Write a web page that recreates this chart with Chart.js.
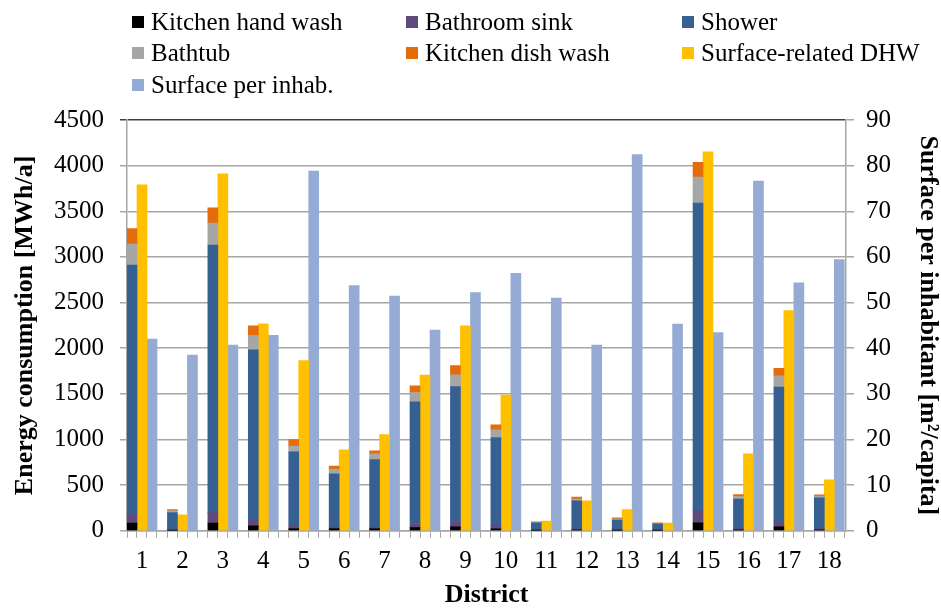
<!DOCTYPE html>
<html>
<head>
<meta charset="utf-8">
<script src="https://cdn.jsdelivr.net/npm/chart.js@4.4.1/dist/chart.umd.min.js"></script>
<style>
  body { margin: 0; background: #fff; }
  #wrap { position: relative; width: 941px; height: 610px; }
  #legend { position: absolute; left: 0; top: 0; width: 941px; height: 110px;
            font: 25px "Liberation Serif", "Times New Roman", serif; color: #000; }
  .item { position: absolute; height: 30px; line-height: 30px; white-space: nowrap;
          display: flex; align-items: center; }
  .box { width: 12px; height: 12px; margin-right: 7px; }
</style>
</head>
<body>
<div id="wrap">
  <canvas id="chart" width="941" height="610"></canvas>
  <div id="legend"></div>
</div>
<script>
// districts along the x-axis
var districts = ['1','2','3','4','5','6','7','8','9','10','11','12','13','14','15','16','17','18'];

// stacked consumption parts [MWh/a]
var handWash = [85, 5, 84, 55, 25, 25, 25, 35, 44, 22, 5, 10, 5, 5, 88, 10, 44, 10];
var bathSink = [100, 8, 115, 65, 30, 15, 15, 45, 58, 40, 5, 10, 8, 5, 131, 12, 55, 12];
var shower = [2725, 187, 2932, 1862, 810, 584, 741, 1333, 1478, 960, 78, 309, 104, 67, 3372, 325, 1474, 339];
var bathtub = [230, 19, 241, 157, 62, 51, 62, 102, 128, 84, 4, 18, 14, 4, 285, 29, 124, 19];
var dishWash = [171, 14, 167, 106, 73, 33, 33, 73, 102, 55, 7, 22, 11, 7, 161, 22, 84, 14];

// surface-related DHW [MWh/a]
var surfaceDhw = [3790, 175, 3909, 2267, 1865, 887, 1055, 1705, 2245, 1486, 106, 329, 233, 84, 4150, 843, 2412, 558];

// surface per inhabitant [m2/capita], right axis
var surfacePerInhab = [42.0, 38.5, 40.7, 42.8, 78.8, 53.7, 51.4, 44.0, 52.2, 56.4, 51.0, 40.7, 82.4, 45.3, 43.4, 76.6, 54.3, 59.4];

var leftTicks = [0, 500, 1000, 1500, 2000, 2500, 3000, 3500, 4000, 4500];
var rightTicks = [0, 10, 20, 30, 40, 50, 60, 70, 80, 90];

var serif = '"Liberation Serif", "Times New Roman", serif';
var gridGray = '#a6a6a6';
var groupHalf = 0.371;   // half of a 3-bar group, in district units

function bar(label, data, color, stack, axis) {
  return {
    label: label, data: data, backgroundColor: color, stack: stack,
    yAxisID: axis || 'y', barThickness: 10, borderWidth: 0
  };
}

var ctx = document.getElementById('chart');
var chart = new Chart(ctx, {
  type: 'bar',
  data: {
    labels: districts,
    datasets: [
      bar('Kitchen hand wash', handWash, '#000000', 'parts'),
      bar('Bathroom sink', bathSink, '#604a7b', 'parts'),
      bar('Shower', shower, '#376092', 'parts'),
      bar('Bathtub', bathtub, '#a6a6a6', 'parts'),
      bar('Kitchen dish wash', dishWash, '#e46c0a', 'parts'),
      bar('Surface-related DHW', surfaceDhw, '#ffc000', 'dhw'),
      bar('Surface per inhab.', surfacePerInhab, '#95abd3', 'surf', 'y2')
    ]
  },
  options: {
    responsive: false,
    animation: false,
    layout: { padding: { top: 120, left: 0, right: 0, bottom: 0 } },
    plugins: { legend: { display: false }, tooltip: { enabled: false } },
    scales: {
      // tick marks at the bar edges under the zero line
      xt: {
        type: 'linear', position: 'bottom', weight: 0,
        min: 1 - groupHalf, max: 18 + 0.413, offset: false,
        ticks: { display: false },
        grid: { offset: false, drawOnChartArea: false, tickLength: 7, color: gridGray, lineWidth: 1 },
        border: { display: true, color: gridGray, width: 1.5 },
        afterBuildTicks: function (scale) {
          var t = [];
          districts.forEach(function (d) {
            for (var j = 0; j < 4; j++) {
              t.push({ value: Number(d) - groupHalf + j * (2 * groupHalf / 3) });
            }
          });
          scale.ticks = t;
        }
      },
      x: {
        type: 'linear', position: 'bottom', weight: 1,
        min: 1 - groupHalf, max: 18 + 0.413, offset: false,
        grid: { display: false, drawTicks: false, offset: false },
        border: { display: false },
        ticks: {
          stepSize: 1, includeBounds: false, autoSkip: false, maxRotation: 0,
          padding: 9, color: '#000',
          font: { family: serif, size: 25 }
        },
        title: {
          display: true, text: 'District', color: '#000',
          font: { family: serif, size: 26, weight: 'bold', lineHeight: 0.7 },
          padding: { top: 0, bottom: 6 }
        }
      },
      y: {
        position: 'left', stacked: true, min: 0, max: 4500,
        afterBuildTicks: function (scale) {
          scale.ticks = leftTicks.map(function (v) { return { value: v }; });
        },
        grid: {
          tickLength: 7, lineWidth: 1.5,
          color: function (c) { return c.tick && c.tick.value === 4500 ? '#404040' : gridGray; }
        },
        border: { display: true, color: gridGray, width: 1.5 },
        ticks: {
          padding: 16, color: '#000',
          font: { family: serif, size: 25 },
          callback: function (v) { return String(v); }
        },
        title: {
          display: true, text: 'Energy consumption [MWh/a]', color: '#000',
          font: { family: serif, size: 26, weight: 'bold', lineHeight: 1 },
          padding: { top: 12, bottom: 0 }
        }
      },
      y2: {
        position: 'right', stacked: true, min: 0, max: 90,
        afterBuildTicks: function (scale) {
          scale.ticks = rightTicks.map(function (v) { return { value: v }; });
        },
        grid: { drawOnChartArea: false, tickLength: 8, color: gridGray, lineWidth: 1.5 },
        border: { display: true, color: gridGray, width: 1.5 },
        ticks: {
          padding: 12, color: '#000',
          font: { family: serif, size: 25 },
          callback: function (v) { return String(v); }
        },
        title: {
          display: true, text: 'Surface per inhabitant [m\u00b2/capita]', color: '#000',
          font: { family: serif, size: 26, weight: 'bold', lineHeight: 1 },
          padding: { top: 0, bottom: 12 }
        }
      }
    }
  }
});

// legend in three aligned columns, built from the chart's datasets
var colX = [132, 406, 682];
var rowTop = [7, 38, 70];
var legend = document.getElementById('legend');
chart.data.datasets.forEach(function (ds, i) {
  var item = document.createElement('div');
  item.className = 'item';
  item.style.left = colX[i % 3] + 'px';
  item.style.top = rowTop[Math.floor(i / 3)] + 'px';
  var box = document.createElement('span');
  box.className = 'box';
  box.style.background = ds.backgroundColor;
  item.appendChild(box);
  item.appendChild(document.createTextNode(ds.label));
  legend.appendChild(item);
});
</script>
</body>
</html>
